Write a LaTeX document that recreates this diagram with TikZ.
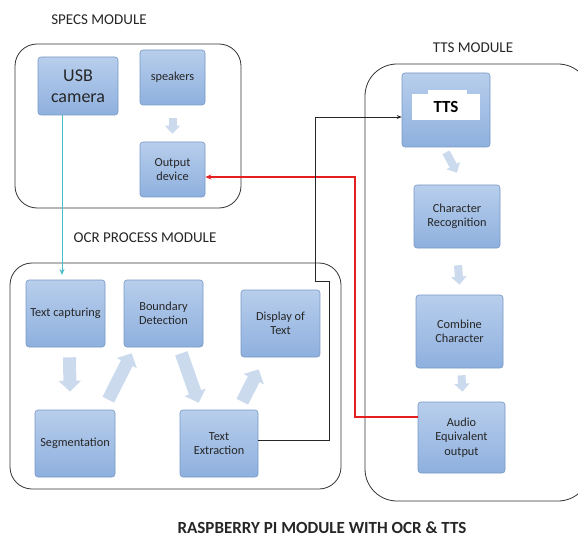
\documentclass[tikz,border=0pt]{standalone}
\usepackage{fontspec}
\setmainfont{Carlito}
\usetikzlibrary{arrows.meta,calc}
\definecolor{boxtop}{RGB}{184,206,236}
\definecolor{boxbot}{RGB}{142,176,222}
\definecolor{boxedge}{RGB}{120,152,196}
\definecolor{blkarrow}{RGB}{204,218,238}
\definecolor{concyan}{RGB}{70,190,200}
\definecolor{conred}{rgb}{0.9,0.12,0.12}
\tikzset{
  x=1pt, y=-1pt,
  procbox/.style={draw=boxedge, line width=0.6pt, rounded corners=3pt,
    top color=boxtop, bottom color=boxbot, align=center, inner sep=0pt,
    font=\fontsize{12.3}{14.5}\selectfont, text=black!85},
  modbox/.style={draw=black!80, line width=0.8pt, rounded corners=22pt},
  modlabel/.style={font=\fontsize{15}{17}\selectfont, text=black!85},
  blk/.style={draw=blkarrow, line width=13pt,
    -{Triangle[width=22pt,length=11pt]}},
  smallblk/.style={draw=blkarrow, line width=8pt,
    -{Triangle[width=15pt,length=8pt]}},
}
\newcommand{\bx}[6]{\node[procbox, minimum width=#4-#2, minimum height=#5-#3]
  (#1) at ({(#2+#4)/2},{(#3+#5)/2}) {#6};}
\begin{document}
\begin{tikzpicture}
\useasboundingbox (0,0) rectangle (578,548);
\begin{scope}
\clip (0,0) rectangle (578,548);
% module boxes
\draw[modbox] (15,44) rectangle (241,208);
\draw[modbox] (10,263) rectangle (341,489);
\draw[modbox, rounded corners=32pt] (365,64) rectangle (590,501);
\end{scope}
% labels
\node[modlabel] (lspecs) at (99,20) {SPECS MODULE};
\node[modlabel] (locr) at (145,238) {OCR PROCESS MODULE};
\node[modlabel] (ltts) at (473,48) {TTS MODULE};
\node[font=\bfseries\fontsize{17}{20}\selectfont, text=black!85] (title) at (322,528) {RASPBERRY PI MODULE WITH OCR \& TTS};
% SPECS
\node[procbox, minimum width=80, minimum height=58, font=\fontsize{18}{21}\selectfont]
  (usb) at (78,86) {USB\\camera};
\bx{spk}{140}{50}{205}{105}{speakers}
\bx{out}{140}{142}{205}{197}{Output\\device}
% OCR
\bx{tc}{26}{280}{105}{347}{Text capturing}
\bx{bd}{124}{280}{203}{347}{Boundary\\Detection}
\bx{dt}{241}{290}{320}{357}{Display of\\Text}
\bx{seg}{35}{410}{115}{477}{Segmentation}
\bx{te}{180}{410}{258}{477}{Text\\Extraction}
% TTS
\bx{tts}{402}{73}{490}{147}{}
\fill[white] (412,94) rectangle (480,120);
\fill[white] (428,90) rectangle (467,95);
\node[font=\bfseries\fontsize{17}{19}\selectfont] (ttst) at (446,107) {TTS};
\bx{cr}{414}{185}{500}{248}{Character\\Recognition}
\bx{cc}{416}{295}{503}{368}{Combine\\Character}
\bx{ae}{418}{402}{505}{473}{Audio\\Equivalent\\output}
% block arrows
\draw[blk] ([xshift=4pt,yshift=-10pt]tc.south) -- ([xshift=-5pt,yshift=18pt]seg.north);
\draw[blk] ([xshift=-7pt,yshift=10pt]seg.north east) -- ([xshift=8pt,yshift=-6pt]bd.south west);
\draw[blk] ([xshift=-22pt,yshift=-6pt]bd.south east) -- ([xshift=19pt,yshift=7pt]te.north west);
\draw[blk] ([xshift=-16pt,yshift=8pt]te.north east) -- ([xshift=18pt,yshift=-12pt]dt.south west);
\draw[smallblk] ([yshift=-13pt]spk.south) -- ([yshift=8pt]out.north);
\draw[smallblk] ([yshift=-5pt]tts.south) -- ([yshift=12pt]cr.north);
\draw[smallblk] ([xshift=1pt,yshift=-17pt]cr.south) -- ([xshift=0pt,yshift=10pt]cc.north);
\draw[smallblk] ([xshift=2pt,yshift=-7pt]cc.south) -- ([xshift=1pt,yshift=10pt]ae.north);
% connectors
\coordinate (r1) at (355,417);
\coordinate (r2) at (355,177);
\begin{scope}
\color{conred}
\draw[draw=conred, line width=1.1pt, -{Stealth[length=6pt,width=5pt,color=conred]}]
  (ae.west |- r1) -- (r1) -- (r2) -- (out.east |- r2);
\end{scope}
\coordinate (k1) at (329,440);
\coordinate (k2) at (329,281);
\coordinate (k3) at (315,281);
\coordinate (k4) at (315,117);
\draw[color=black!85, line width=0.8pt, -{Stealth[length=5pt,width=4pt]}]
  (te.east |- k1) -- (k1) -- (k2) -- (k3) -- (k4) -- (tts.west |- k4);
\draw[color=concyan, line width=1pt, -{Stealth[length=6pt,width=5pt]}]
  (usb.south -| 62,0) -- (62,275);
\end{tikzpicture}
\end{document}
